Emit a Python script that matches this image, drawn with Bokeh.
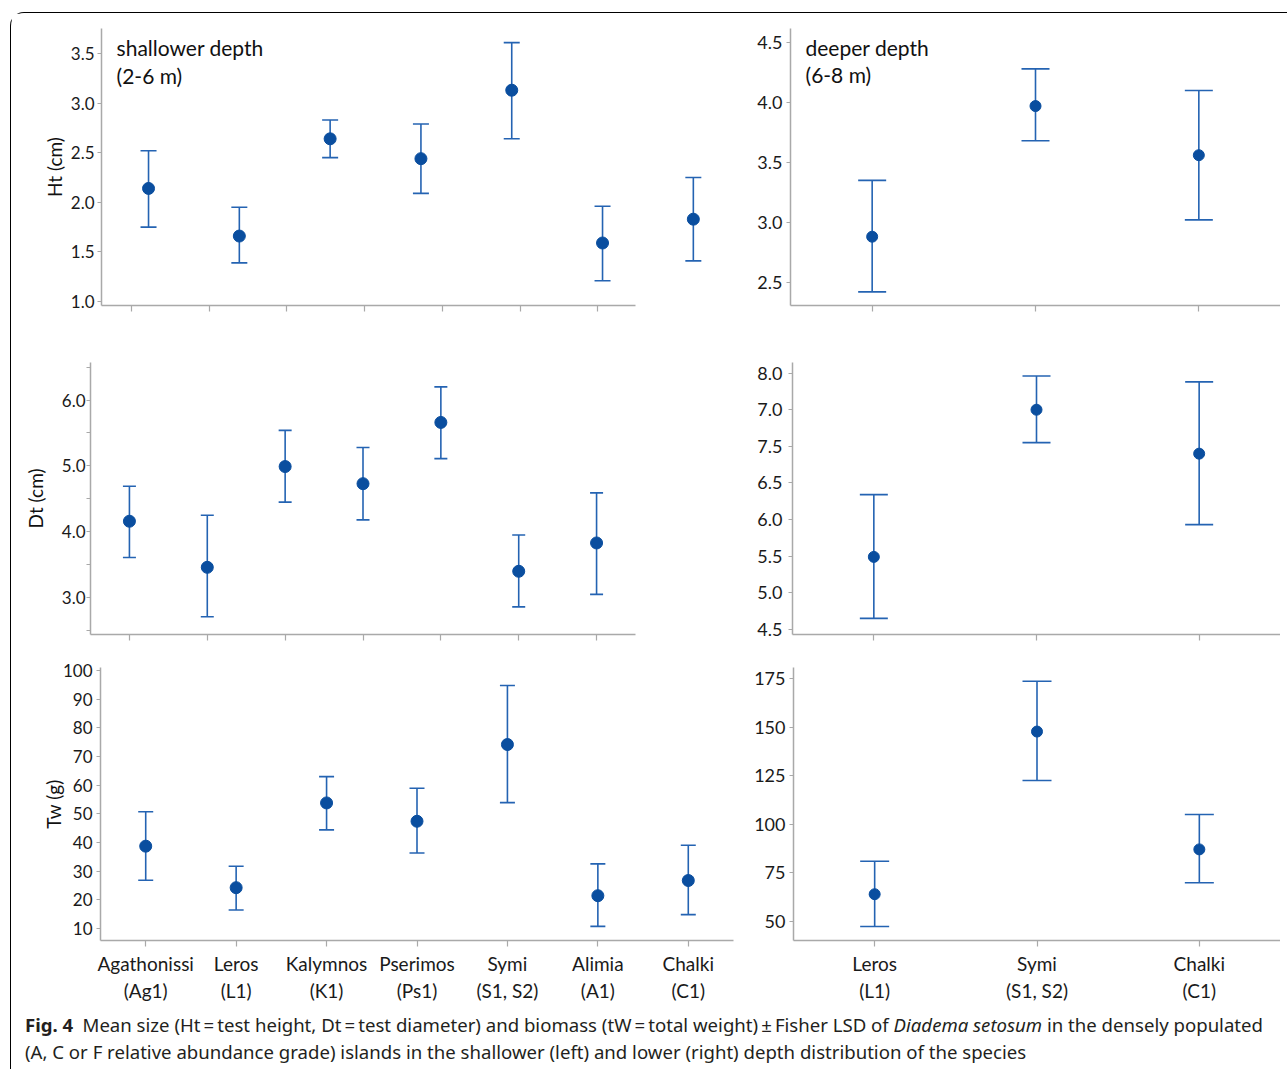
from bokeh.plotting import figure
from bokeh.models import (ColumnDataSource, Whisker, TeeHead, FixedTicker, Range1d,
                          FactorRange, Label, Div, NumeralTickFormatter, CategoricalAxis)
from bokeh.layouts import column, row
from bokeh.embed import file_html
from bokeh.resources import INLINE

# ---------------- data ----------------
islands_shallow = ["Agathonissi", "Leros", "Kalymnos", "Pserimos", "Symi", "Alimia", "Chalki"]
codes_shallow = ["Ag1", "L1", "K1", "Ps1", "S1, S2", "A1", "C1"]
islands_deep = ["Leros", "Symi", "Chalki"]
codes_deep = ["L1", "S1, S2", "C1"]

ht_shallow_mean = [2.14, 1.66, 2.64, 2.44, 3.13, 1.59, 1.83]
ht_shallow_low = [1.75, 1.39, 2.45, 2.09, 2.64, 1.21, 1.41]
ht_shallow_high = [2.52, 1.95, 2.83, 2.79, 3.61, 1.96, 2.25]

ht_deep_mean = [2.88, 3.97, 3.56]
ht_deep_low = [2.42, 3.68, 3.02]
ht_deep_high = [3.35, 4.28, 4.10]

dt_shallow_mean = [4.16, 3.46, 4.99, 4.73, 5.66, 3.40, 3.83]
dt_shallow_low = [3.61, 2.71, 4.45, 4.18, 5.11, 2.86, 3.05]
dt_shallow_high = [4.69, 4.25, 5.54, 5.28, 6.20, 3.95, 4.59]

dt_deep_mean = [5.49, 7.50, 6.90]
dt_deep_low = [4.65, 7.05, 5.93]
dt_deep_high = [6.34, 7.96, 7.88]

tw_shallow_mean = [38.7, 24.2, 53.8, 47.4, 74.2, 21.4, 26.7]
tw_shallow_low = [26.8, 16.4, 44.4, 36.3, 53.9, 10.7, 14.8]
tw_shallow_high = [50.7, 31.7, 63.0, 58.9, 94.8, 32.5, 39.0]

tw_deep_mean = [63.9, 147.7, 87.0]
tw_deep_low = [47.3, 122.5, 69.8]
tw_deep_high = [80.9, 173.6, 105.0]

ht_shallow_ticks = [1.0, 1.5, 2.0, 2.5, 3.0, 3.5]
ht_deep_ticks = [2.5, 3.0, 3.5, 4.0, 4.5]
dt_shallow_ticks = [3.0, 4.0, 5.0, 6.0]
dt_shallow_minor = [2.5, 3.5, 4.5, 5.5, 6.5]
dt_deep_ticks = [4.5, 5.0, 5.5, 6.0, 6.5, 7.0, 7.5, 8.0]
dt_deep_tick_labels = ["4.5", "5.0", "5.5", "6.0", "6.5", "7.5", "7.0", "8.0"]
tw_shallow_ticks = [10, 20, 30, 40, 50, 60, 70, 80, 90, 100]
tw_deep_ticks = [50, 75, 100, 125, 150, 175]

# ---------------- style ----------------
FONT = "Lato"
AXIS_GREY = "#a9a9a9"
DOT = "#0a4e9f"
BAR = "#2463b2"
TXT = "#1a1a1a"


def make_fig(width, height, x_range, y_range, left, right, top, bottom):
    p = figure(width=width, height=height, x_range=x_range, y_range=y_range,
               output_backend="svg", toolbar_location=None,
               min_border_left=left, min_border_right=right,
               min_border_top=top, min_border_bottom=bottom)
    p.outline_line_color = None
    p.grid.visible = False
    p.border_fill_color = "white"
    for ax in (p.xaxis[0], p.yaxis[0]):
        ax.axis_line_color = AXIS_GREY
        ax.axis_line_width = 1.5
        ax.major_tick_line_color = AXIS_GREY
        ax.major_tick_line_width = 1.2
        ax.major_tick_in = 0
        ax.minor_tick_line_color = None
        ax.major_label_text_font = FONT
        ax.major_label_text_font_size = "17px"
        ax.major_label_text_color = TXT
    p.yaxis.major_tick_out = 4
    p.xaxis.major_tick_out = 6
    p.yaxis.major_label_standoff = 3
    return p


def hide_x_labels(p):
    p.xaxis.major_label_text_color = None
    p.xaxis.major_label_text_font_size = "0px"
    p.xaxis.major_label_standoff = 0


def two_line_labels(p, codes):
    p.xaxis.major_label_text_font_size = "19px"
    p.xaxis.major_label_standoff = 5
    code_labels = [f"({c})" for c in codes]
    p.extra_x_ranges = {"codes": FactorRange(*code_labels, range_padding=0)}
    second = CategoricalAxis(x_range_name="codes", axis_line_color=None,
                             major_tick_line_color=None, minor_tick_line_color=None,
                             major_tick_out=0, major_tick_in=0,
                             major_label_text_font=FONT, major_label_text_font_size="19px",
                             major_label_text_color=TXT, major_label_standoff=1)
    p.add_layout(second, "below")


def add_bars(p, xs, mean, low, high, cap, dot_size):
    src = ColumnDataSource(dict(x=xs, mean=mean, low=low, high=high))
    w = Whisker(base="x", upper="high", lower="low", source=src,
                line_color=BAR, line_width=1.6,
                upper_head=TeeHead(size=cap, line_color=BAR, line_width=1.6),
                lower_head=TeeHead(size=cap, line_color=BAR, line_width=1.6))
    p.add_layout(w)
    p.scatter("x", "mean", source=src, size=dot_size, color=DOT, line_color=DOT)


def y_label(p, text, standoff):
    p.yaxis.axis_label = text
    p.yaxis.axis_label_text_font = FONT
    p.yaxis.axis_label_text_font_size = "19px"
    p.yaxis.axis_label_text_font_style = "normal"
    p.yaxis.axis_label_text_color = "#111111"
    p.yaxis.axis_label_standoff = standoff


def corner_text(p, x, y, text):
    p.add_layout(Label(x=x, y=y, text=text, text_font=FONT, text_font_size="21px",
                       text_color="#111111", text_baseline="top", text_align="left",
                       text_line_height=1.1))


# ---------------- top-left: Ht shallow ----------------
pos_shallow = list(range(len(islands_shallow)))
tl = make_fig(697, 327, Range1d(-0.518, 6.167), Range1d(0.96, 3.752), 90, 0, 15, 35)
tl.xaxis.ticker = FixedTicker(ticks=[-0.187 + 0.8557 * k for k in range(7)])
tl.xaxis.bounds = (-0.518, 5.363)
hide_x_labels(tl)
tl.yaxis.ticker = FixedTicker(ticks=ht_shallow_ticks)
tl.yaxis.formatter = NumeralTickFormatter(format="0.0")
y_label(tl, "Ht (cm)", 2)
add_bars(tl, pos_shallow, ht_shallow_mean, ht_shallow_low, ht_shallow_high, 16, 12)
corner_text(tl, -0.352, 3.685, "shallower depth\n(2-6 m)")

# ---------------- top-right: Ht deep ----------------
tr = make_fig(572, 327, FactorRange(*islands_deep, range_padding=0), Range1d(2.306, 4.617), 82, 0, 15, 35)
hide_x_labels(tr)
tr.yaxis.ticker = FixedTicker(ticks=ht_deep_ticks)
tr.yaxis.formatter = NumeralTickFormatter(format="0.0")
tr.yaxis.major_label_standoff = 4
tr.yaxis.major_label_text_font_size = "18px"
add_bars(tr, islands_deep, ht_deep_mean, ht_deep_low, ht_deep_high, 28, 11)
corner_text(tr, 0.092, 4.565, "deeper depth\n(6-8 m)")

# ---------------- middle-left: Dt shallow ----------------
ml = make_fig(697, 320, FactorRange(*islands_shallow, range_padding=0), Range1d(2.44, 6.57), 79, 73, 18, 26)
hide_x_labels(ml)
ml.yaxis.ticker = FixedTicker(ticks=dt_shallow_ticks, minor_ticks=dt_shallow_minor)
ml.yaxis.formatter = NumeralTickFormatter(format="0.0")
ml.yaxis.minor_tick_line_color = AXIS_GREY
ml.yaxis.minor_tick_out = 4
ml.yaxis.minor_tick_in = 0
ml.yaxis.major_label_standoff = 1
y_label(ml, "Dt (cm)", 12)
add_bars(ml, islands_shallow, dt_shallow_mean, dt_shallow_low, dt_shallow_high, 13, 12)

# ---------------- middle-right: Dt deep ----------------
mr = make_fig(572, 320, FactorRange(*islands_deep, range_padding=0), Range1d(4.43, 8.145), 84, 0, 22, 26)
hide_x_labels(mr)
mr.yaxis.ticker = FixedTicker(ticks=dt_deep_ticks)
mr.yaxis.major_label_overrides = {t: s for t, s in zip(dt_deep_ticks, dt_deep_tick_labels)}
mr.yaxis.major_label_standoff = 6
mr.yaxis.major_label_text_font_size = "18px"
add_bars(mr, islands_deep, dt_deep_mean, dt_deep_low, dt_deep_high, 28, 11)

# ---------------- bottom-left: Tw shallow ----------------
bl = make_fig(737, 346, FactorRange(*islands_shallow, range_padding=0), Range1d(5.75, 101.1), 89, 15, 4, 66)
two_line_labels(bl, codes_shallow)
bl.yaxis.ticker = FixedTicker(ticks=tw_shallow_ticks)
bl.yaxis.major_label_standoff = 4
y_label(bl, "Tw (g)", -5)
add_bars(bl, islands_shallow, tw_shallow_mean, tw_shallow_low, tw_shallow_high, 15, 12)

# ---------------- bottom-right: Tw deep ----------------
br = make_fig(532, 346, FactorRange(*islands_deep, range_padding=0), Range1d(40.06, 180.7), 45, 0, 7, 66)
two_line_labels(br, codes_deep)
br.yaxis.ticker = FixedTicker(ticks=tw_deep_ticks)
br.yaxis.major_label_standoff = 4
br.yaxis.major_label_text_font_size = "18px"
add_bars(br, islands_deep, tw_deep_mean, tw_deep_low, tw_deep_high, 29, 11)

# ---------------- caption ----------------
caption_html = (
    "<div style=\"font-family:'Noto Sans'; font-size:18.6px; line-height:27px; color:#231f20;"
    " white-space:nowrap; padding-left:9px;\">"
    "<b>Fig. 4</b>&ensp;Mean size (Ht\u2009=\u2009test height, Dt\u2009=\u2009test diameter) and biomass "
    "(tW\u2009=\u2009total weight)\u2009\u00b1\u2009Fisher LSD of <i>Diadema setosum</i> in the densely populated<br>"
    "(A, C or F relative abundance grade) islands in the shallower (left) and lower (right) depth "
    "distribution of the species</div>"
)
caption = Div(text=caption_html, width=1269, height=56)

layout = column(
    row(tl, tr),
    row(ml, mr),
    row(bl, br),
    caption,
    margin=(12, 0, 0, 10),
    styles={"border-top": "1px solid #000", "border-left": "1px solid #000",
            "border-top-left-radius": "14px"},
)

open("out.html", "w").write(file_html(layout, INLINE))
